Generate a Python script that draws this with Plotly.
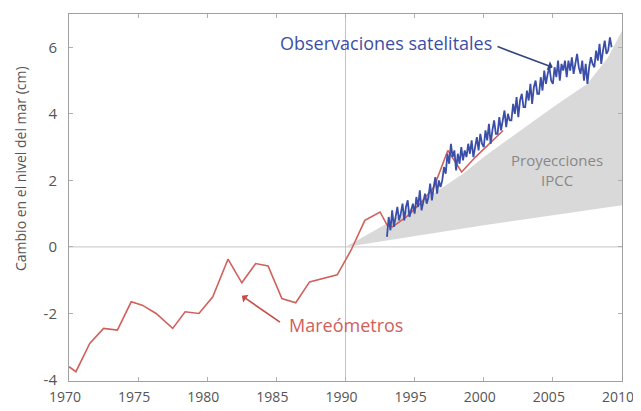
import plotly.graph_objects as go

# Tide gauge (Mareómetros) annual series
tide_years = [1970.0, 1970.5, 1971.5, 1972.5, 1973.5, 1974.5, 1975.3, 1976.3, 1977.5,
              1978.4, 1979.4, 1980.4, 1981.5, 1982.5, 1983.5, 1984.4, 1985.4, 1986.4,
              1987.4, 1988.4, 1989.4, 1990.4, 1991.4, 1992.5, 1993.0, 1993.4, 1994.4,
              1995.4, 1996.4, 1997.4, 1998.4, 1999.4, 2000.4, 2001.4]
tide_values = [-3.6, -3.75, -2.9, -2.45, -2.5, -1.65, -1.75, -2.0, -2.45,
               -1.95, -2.0, -1.5, -0.37, -1.08, -0.5, -0.57, -1.55, -1.68,
               -1.05, -0.95, -0.84, -0.1, 0.8, 1.05, 0.66, 0.6, 0.9,
               1.3, 1.8, 2.9, 2.25, 2.7, 3.1, 3.5]

# Satellite observations, 8 samples per year from 1993.0
sat_start = 1993.0
sat_values = [
    0.3, 0.9, 0.5, 1.1, 0.6, 0.9, 1.2, 0.8,
    1.0, 1.3, 0.8, 1.2, 1.4, 0.9, 1.1, 1.3,
    1.0, 1.5, 1.2, 1.7, 1.1, 1.4, 1.6, 1.3,
    1.5, 1.9, 1.4, 1.8, 2.1, 1.6, 2.0, 1.8,
    2.0, 2.4, 2.2, 2.8, 2.5, 3.1, 2.7, 2.9,
    2.3, 2.8, 2.5, 3.0, 2.6, 2.9, 2.7, 3.1,
    2.8, 3.2, 2.7, 3.0, 3.3, 2.9, 3.4, 3.1,
    3.0, 3.5, 3.2, 3.7, 3.1, 3.5, 3.8, 3.4,
    3.4, 3.9, 3.5, 3.8, 4.1, 3.6, 4.0, 3.8,
    3.8, 4.3, 4.0, 4.5, 3.9, 4.4, 4.6, 4.2,
    4.2, 4.7, 4.4, 4.9, 4.3, 4.8, 5.0, 4.6,
    4.6, 5.1, 4.7, 5.3, 4.9, 5.2, 5.4, 5.0,
    4.9, 5.4, 5.1, 5.6, 5.0, 5.5, 5.3, 5.6,
    5.1, 5.6, 5.3, 5.7, 5.2, 5.5, 5.8, 5.4,
    5.2, 5.6, 5.0, 5.5, 4.9, 5.4, 5.7, 5.5,
    5.4, 5.9, 5.6, 6.1, 5.5, 5.9, 6.2, 5.8,
    5.9, 6.3, 6.0,
]
sat_years = [sat_start + i / 8 for i in range(len(sat_values))]

# IPCC projection envelope
ipcc_years = [1990, 1993, 1996, 1998.5, 2000, 2003, 2005, 2007.5, 2009, 2010]
ipcc_upper = [0.0, 0.7, 1.5, 2.2, 2.7, 3.6, 4.2, 4.9, 5.7, 6.5]
ipcc_lower = [0.0, 0.2, 0.4, 0.55, 0.65, 0.83, 0.95, 1.1, 1.2, 1.25]

x_ticks = [1970, 1975, 1980, 1985, 1990, 1995, 2000, 2005, 2010]
y_ticks = [-4, -2, 0, 2, 4, 6]

FONT = "Open Sans"
# figure is placed by the page with an 8px body margin
ML, MR, MT, MB = 61, 19, 6, 30
W, H = 633, 403

fig = go.Figure()
fig.add_trace(go.Scatter(x=ipcc_years, y=ipcc_lower, mode="lines",
                         line=dict(width=0, color="#d9d9d9"), hoverinfo="skip",
                         showlegend=False))
fig.add_trace(go.Scatter(x=ipcc_years, y=ipcc_upper, mode="lines", fill="tonexty",
                         fillcolor="#d9d9d9", line=dict(width=0, color="#d9d9d9"),
                         showlegend=False))
fig.add_trace(go.Scatter(x=tide_years, y=tide_values, mode="lines",
                         line=dict(color="#d0605c", width=1.6), showlegend=False))
fig.add_trace(go.Scatter(x=sat_years, y=sat_values, mode="lines",
                         line=dict(color="#3b4fa8", width=1.8), showlegend=False))

# reference lines
fig.add_shape(type="line", x0=1990, x1=1990, y0=0, y1=1, yref="paper",
              line=dict(color="#c4c4c4", width=1), layer="below")
fig.add_shape(type="line", x0=0, x1=1, xref="paper", y0=0, y1=0,
              line=dict(color="#c4c4c4", width=1), layer="below")

fig.add_annotation(x=2001.0, y=6.02, text="", showarrow=True, ax=2005.1, ay=5.38,
                   axref="x", ayref="y", arrowside="start", arrowhead=2, arrowsize=1.2,
                   arrowwidth=1.6, arrowcolor="#34447f")
fig.add_annotation(x=1992.9, y=6.13, text="Observaciones satelitales", showarrow=False,
                   font=dict(family=FONT, size=18, color="#3d4fa5"))
fig.add_annotation(x=1985.26, y=-2.26, text="", showarrow=True, ax=1982.4, ay=-1.44,
                   axref="x", ayref="y", arrowside="start", arrowhead=2, arrowsize=1.2,
                   arrowwidth=1.6, arrowcolor="#c44c4a")
fig.add_annotation(x=1990.0, y=-2.34, text="Mareómetros", showarrow=False,
                   font=dict(family=FONT, size=18, color="#d0605c"))
fig.add_annotation(x=2005.3, y=2.3, text="Proyecciones<br>IPCC", showarrow=False,
                   font=dict(family=FONT, size=15, color="#888888"))

# y-axis title as rotated annotation (screen pixel position converted to paper coords)
plot_w = W - ML - MR
plot_h = H - MT - MB
fig.add_annotation(x=(20 - 8 - ML) / plot_w, xref="paper", xanchor="center",
                   y=(H - MB - (169 - 8)) / plot_h, yref="paper", yanchor="middle",
                   text="Cambio en el nivel del mar (cm)",
                   textangle=-90, showarrow=False,
                   font=dict(family=FONT, size=14, color="#555555"))

axis_common = dict(showline=True, linecolor="#a0a0a0", linewidth=1, mirror="ticks",
                   ticks="inside", ticklen=4, tickcolor="#b0b0b0", showgrid=False,
                   zeroline=False, automargin=False, ticklabeloverflow="allow",
                   tickfont=dict(family=FONT, size=15, color="#555555"))

fig.update_xaxes(range=[1970, 2010], tickvals=x_ticks, ticklabelstandoff=3,
                 ticklabelshift=-4,
                 ticktext=[str(v) for v in x_ticks], **axis_common)
fig.update_xaxes(tickfont=dict(family=FONT, size=14, color="#555555"))
fig.update_yaxes(range=[-4.03, 7.0], tickvals=y_ticks, ticklabelstandoff=8,
                 ticktext=[str(v) for v in y_ticks], **axis_common)

fig.update_layout(width=W, height=H, margin=dict(l=ML, r=MR, t=MT, b=MB, autoexpand=False),
                  plot_bgcolor="white", paper_bgcolor="white")

fig.write_html("out.html")
